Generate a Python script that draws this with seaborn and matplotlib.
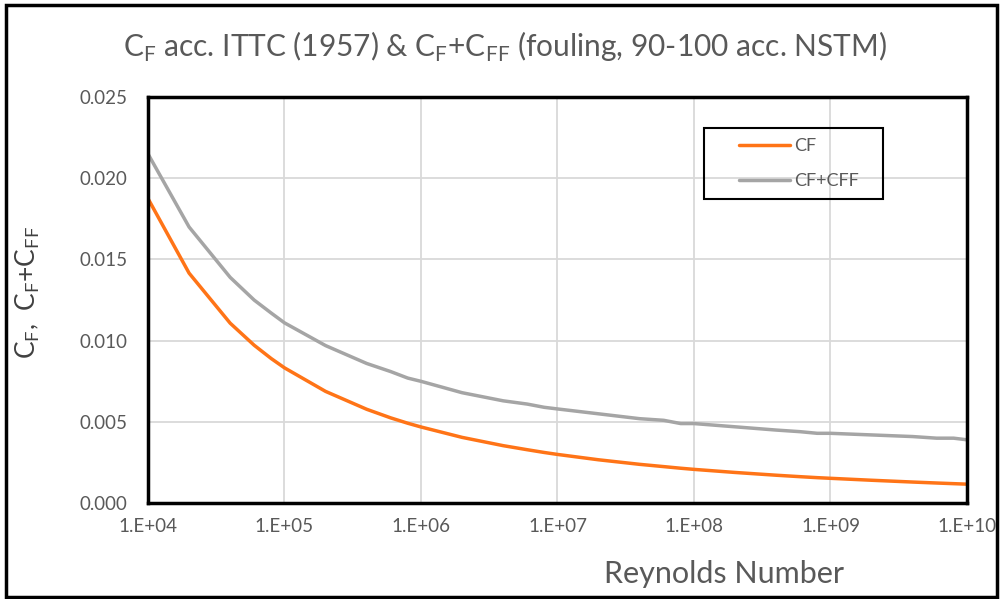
import numpy as np
import pandas as pd
import seaborn as sns
import matplotlib.pyplot as plt
from matplotlib.ticker import FuncFormatter, FixedLocator
from matplotlib.patches import Rectangle

# Reynolds numbers (1, 2, 4, 6, 8 per decade)
re_num = [1e4, 2e4, 4e4, 6e4, 8e4,
          1e5, 2e5, 4e5, 6e5, 8e5,
          1e6, 2e6, 4e6, 6e6, 8e6,
          1e7, 2e7, 4e7, 6e7, 8e7,
          1e8, 2e8, 4e8, 6e8, 8e8,
          1e9, 2e9, 4e9, 6e9, 8e9,
          1e10]
cf = [0.01875, 0.01416, 0.01108, 0.00972, 0.00890,
      0.00833, 0.00688, 0.00578, 0.00525, 0.00492,
      0.00469, 0.00405, 0.00354, 0.00329, 0.00312,
      0.00300, 0.00267, 0.00239, 0.00225, 0.00215,
      0.00208, 0.00189, 0.00172, 0.00163, 0.00157,
      0.00153, 0.00141, 0.00130, 0.00124, 0.00120,
      0.00117]
cf_cff = [0.0215, 0.0170, 0.0139, 0.0125, 0.0117,
          0.0111, 0.0097, 0.0086, 0.0081, 0.0077,
          0.0075, 0.0068, 0.0063, 0.0061, 0.0059,
          0.0058, 0.0055, 0.0052, 0.0051, 0.0049,
          0.0049, 0.0047, 0.0045, 0.0044, 0.0043,
          0.0043, 0.0042, 0.0041, 0.0040, 0.0040,
          0.0039]
y_ticks = [0.000, 0.005, 0.010, 0.015, 0.020, 0.025]
x_ticks = [1e4, 1e5, 1e6, 1e7, 1e8, 1e9, 1e10]

df = pd.DataFrame({'Re': re_num * 2,
                   'value': cf + cf_cff,
                   'series': ['CF'] * len(cf) + ['CF+CFF'] * len(cf_cff)})

sns.set_style('white')
plt.rcParams['font.family'] = ['Lato', 'DejaVu Sans']
plt.rcParams['mathtext.fontset'] = 'custom'
plt.rcParams['mathtext.rm'] = 'Lato'

txt_col = '#595959'
fig = plt.figure(figsize=(10.02, 5.99), dpi=100)
ax = fig.add_axes([0.1477, 0.160, 0.8173, 0.678])

sns.lineplot(data=df, x='Re', y='value', hue='series',
             palette={'CF': '#ff7417', 'CF+CFF': '#a5a5a5'},
             linewidth=2.5, ax=ax)

ax.set_xscale('log')
ax.set_xlim(1e4, 1e10)
ax.set_ylim(0, 0.025)
ax.xaxis.set_major_locator(FixedLocator(x_ticks))
ax.xaxis.set_minor_locator(FixedLocator([]))
ax.xaxis.set_major_formatter(FuncFormatter(lambda v, p: '1.E+%02d' % int(round(np.log10(v)))))
ax.set_yticks(y_ticks)
ax.yaxis.set_major_formatter(FuncFormatter(lambda v, p: '%.3f' % v))
ax.grid(True, color='#d9d9d9', linewidth=1.3)
ax.tick_params(axis='both', length=0, labelsize=13.5, labelcolor=txt_col)
ax.tick_params(axis='x', pad=11)
ax.tick_params(axis='y', pad=15)
for s in ax.spines.values():
    s.set_color('black')
    s.set_linewidth(2.5)

ax.set_xlabel('Reynolds Number', fontsize=22, color=txt_col)
ax.xaxis.set_label_coords(0.703, -0.14)
ax.set_ylabel(r'C$_\mathregular{F}$,  C$_\mathregular{F}$+C$_\mathregular{FF}$', fontsize=19, color='#404040')
ax.yaxis.set_label_coords(-0.13, 0.52)

fig.text(0.504, 0.922, r'C$_\mathregular{F}$ acc. ITTC (1957) & C$_\mathregular{F}$+C$_\mathregular{FF}$ (fouling, 90-100 acc. NSTM)',
         ha='center', va='center', fontsize=21.5, color=txt_col)

# legend without frame, box drawn separately
leg = ax.legend(loc='upper left', bbox_to_anchor=(0.7216, 0.898), frameon=False,
                fontsize=13, handlelength=2.83, handletextpad=0.25,
                borderpad=0, borderaxespad=0, labelspacing=1.05)
for t in leg.get_texts():
    t.set_color(txt_col)
ax.add_patch(Rectangle((0.679, 0.749), 0.218, 0.175, transform=ax.transAxes,
                       fill=False, edgecolor='black', linewidth=1.5, zorder=5))

fig.patches.append(Rectangle((0.006, 0.004), 0.989, 0.988, transform=fig.transFigure,
                             fill=False, edgecolor='black', linewidth=2.5))

plt.savefig('out.png', dpi=100)
